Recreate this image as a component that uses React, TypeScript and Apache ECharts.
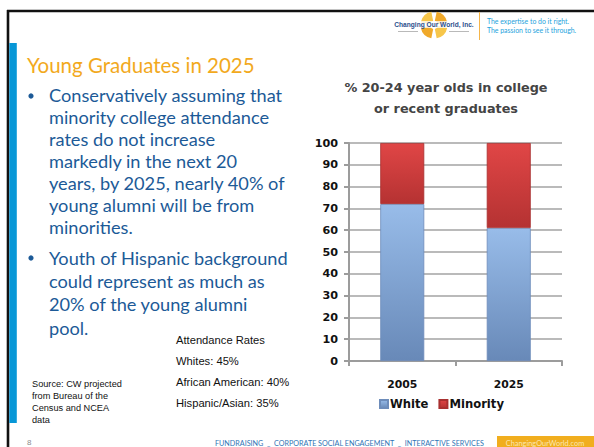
import React, { useEffect, useRef } from "react";
import * as echarts from "echarts";

// Chart data
const categories = ["2005", "2025"];
const whiteShare = [72, 61];
const minorityShare = [28, 39];
const seriesNames = ["White", "Minority"];
const yMin = 0;
const yMax = 100;
const yInterval = 10;

// Slide copy
const slideTitle = "Young Graduates in 2025";
const chartTitle = "% 20-24 year olds in college\nor recent graduates";
const bulletOne = [
  "Conservatively assuming that",
  "minority college attendance",
  "rates do not increase",
  "markedly in the next 20",
  "years, by 2025, nearly 40% of",
  "young alumni will be from",
  "minorities.",
];
const bulletTwo = [
  "Youth of Hispanic background",
  "could represent as much as",
  "20% of the young alumni",
  "pool.",
];
const attendanceLines = [
  "Attendance Rates",
  "Whites: 45%",
  "African American: 40%",
  "Hispanic/Asian: 35%",
];
const sourceLines = [
  "Source: CW projected",
  "from Bureau of the",
  "Census and NCEA",
  "data",
];
const taglineLines = ["The expertise to do it right.", "The passion to see it through."];
const footerText = "FUNDRAISING  _  CORPORATE SOCIAL ENGAGEMENT  _  INTERACTIVE SERVICES";
const footerSite = "ChangingOurWorld.com";
const pageNumber = "8";
const logoName = "Changing Our World, Inc.";

const BODY_BLUE = "#1c5a97";
const ORANGE = "#f2a91d";
const CHART_FONT = "DejaVu Sans";

function buildGraphics() {
  const g: any[] = [];
  // slide frame
  g.push({ type: "line", shape: { x1: 7, y1: 11, x2: 594, y2: 11 }, style: { stroke: "#111", lineWidth: 2.6 } });
  g.push({ type: "line", shape: { x1: 8, y1: 10, x2: 8, y2: 447 }, style: { stroke: "#111", lineWidth: 2.6 } });
  g.push({ type: "rect", shape: { x: 9.3, y: 43, width: 7.5, height: 380 }, style: { fill: "#0797d7" } });

  // logo globe
  const cx = 434, cy = 25;
  const quad = [
    { s: -Math.PI + 0.2, e: -Math.PI / 2 - 0.2, c: "#f7c64a" },
    { s: -Math.PI / 2 + 0.2, e: -0.2, c: "#f0a92a" },
    { s: 0.2, e: Math.PI / 2 - 0.2, c: "#f7c64a" },
    { s: Math.PI / 2 + 0.2, e: Math.PI - 0.2, c: "#f0a92a" },
  ];
  quad.forEach((q) =>
    g.push({ type: "sector", shape: { cx, cy, r: 13.5, r0: 4, startAngle: q.s, endAngle: q.e }, style: { fill: q.c } })
  );
  g.push({ type: "rect", shape: { x: 396, y: 21, width: 76, height: 7 }, style: { fill: "rgba(255,255,255,0.75)" } });
  g.push({
    type: "text",
    style: { text: logoName, x: 434, y: 24.5, align: "center", verticalAlign: "middle", fill: "#2c4f8c", fontSize: 6.6, fontWeight: "bold", fontFamily: "Liberation Sans Narrow, Liberation Sans" },
  });
  g.push({ type: "rect", shape: { x: 398, y: 31, width: 20, height: 1 }, style: { fill: "#b9b9b9" } });
  g.push({ type: "rect", shape: { x: 449, y: 31, width: 20, height: 1 }, style: { fill: "#b9b9b9" } });
  g.push({ type: "line", shape: { x1: 479.5, y1: 12, x2: 479.5, y2: 40 }, style: { stroke: "#f5b54a", lineWidth: 1 } });
  g.push({
    type: "text",
    style: { text: taglineLines.join("\n"), x: 487, y: 16, lineHeight: 9.5, fill: "#25a3dd", fontSize: 6.9, fontFamily: "Lato" },
  });

  // slide heading and body copy
  g.push({
    type: "text",
    style: { text: slideTitle, x: 27, y: 65, verticalAlign: "middle", fill: ORANGE, fontSize: 20.5, fontFamily: "Lato" },
  });
  g.push({ type: "circle", shape: { cx: 31, cy: 96, r: 2.6 }, style: { fill: BODY_BLUE } });
  g.push({
    type: "text",
    style: { text: bulletOne.join("\n"), x: 49, y: 84, lineHeight: 22, fill: BODY_BLUE, fontSize: 18.2, fontFamily: "Lato" },
  });
  g.push({ type: "circle", shape: { cx: 31, cy: 258, r: 2.6 }, style: { fill: BODY_BLUE } });
  g.push({
    type: "text",
    style: { text: bulletTwo.join("\n"), x: 49, y: 246, lineHeight: 23.3, fill: BODY_BLUE, fontSize: 18.2, fontFamily: "Lato" },
  });
  g.push({
    type: "text",
    style: { text: attendanceLines.join("\n"), x: 176, y: 329, lineHeight: 21, fill: "#111", fontSize: 11.2, fontFamily: "Liberation Sans" },
  });
  g.push({
    type: "text",
    style: { text: sourceLines.join("\n"), x: 32, y: 378, lineHeight: 12, fill: "#111", fontSize: 9.2, fontFamily: "Liberation Sans" },
  });

  // footer
  g.push({
    type: "text",
    style: { text: pageNumber, x: 27, y: 442, verticalAlign: "middle", fill: "#8c8c8c", fontSize: 8, fontFamily: "Liberation Sans" },
  });
  g.push({
    type: "text",
    style: { text: footerText, x: 215, y: 443, verticalAlign: "middle", fill: "#2e74b5", fontSize: 7.2, fontFamily: "Lato" },
  });
  g.push({ type: "rect", shape: { x: 497, y: 436, width: 97, height: 11 }, style: { fill: "#f1ae1e" } });
  g.push({
    type: "text",
    style: { text: footerSite, x: 545, y: 443, align: "center", verticalAlign: "middle", fill: "#fbe7b0", fontSize: 7.4, fontFamily: "Lato" },
  });
  return g;
}

function barGradient(top: string, bottom: string) {
  return new echarts.graphic.LinearGradient(0, 0, 0, 1, [
    { offset: 0, color: top },
    { offset: 1, color: bottom },
  ]);
}

export default function App() {
  const ref = useRef<HTMLDivElement>(null);

  useEffect(() => {
    if (!ref.current) return;
    const chart = echarts.init(ref.current, null, { renderer: "svg" });
    chart.setOption({
      animation: false,
      backgroundColor: "#ffffff",
      title: {
        text: chartTitle,
        left: 441,
        top: 72,
        textAlign: "center",
        textStyle: { fontFamily: CHART_FONT, fontWeight: "bold", fontSize: 12.8, color: "#444", lineHeight: 21 },
      },
      legend: {
        data: seriesNames,
        left: 374,
        top: 393,
        itemWidth: 8,
        itemHeight: 8,
        itemGap: 10,
        icon: "rect",
        textStyle: { fontFamily: CHART_FONT, fontWeight: "bold", fontSize: 11.6, color: "#111", padding: [0, 0, 0, -3] },
      },
      grid: { left: 349, right: 32, top: 143, bottom: 86 },
      xAxis: {
        type: "category",
        data: categories,
        axisLine: { lineStyle: { color: "#9c9c9c", width: 2 } },
        axisTick: { show: true, length: 5, lineStyle: { color: "#9c9c9c", width: 2 } },
        axisLabel: { margin: 18, fontFamily: CHART_FONT, fontWeight: "bold", fontSize: 10.8, color: "#111" },
      },
      yAxis: {
        type: "value",
        min: yMin,
        max: yMax,
        interval: yInterval,
        axisLine: { show: true, lineStyle: { color: "#9c9c9c", width: 2 } },
        axisTick: { show: true, length: 5, lineStyle: { color: "#9c9c9c", width: 2 } },
        axisLabel: { margin: 11, fontFamily: CHART_FONT, fontWeight: "bold", fontSize: 11.2, color: "#111" },
        splitLine: { lineStyle: { color: "#a3a3a3", width: 1.6 } },
      },
      series: [
        {
          name: seriesNames[0],
          type: "bar",
          stack: "share",
          barWidth: 44,
          data: whiteShare,
          itemStyle: { color: barGradient("#98bce9", "#6889b8"), borderColor: "#6d8cba", borderWidth: 0.8 },
        },
        {
          name: seriesNames[1],
          type: "bar",
          stack: "share",
          barWidth: 44,
          data: minorityShare,
          itemStyle: { color: barGradient("#e04646", "#b53232"), borderColor: "#a83030", borderWidth: 0.8 },
        },
      ],
      graphic: buildGraphics(),
    });
    return () => chart.dispose();
  }, []);

  return <div ref={ref} style={{ position: "fixed", left: 0, top: 0, width: 594, height: 447 }} />;
}
